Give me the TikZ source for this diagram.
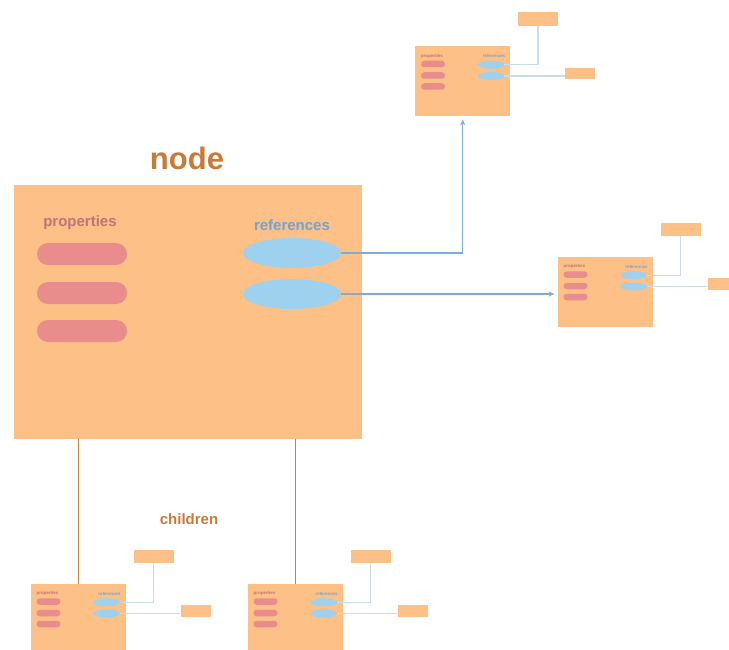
\documentclass[tikz,border=0pt]{standalone}
\usepackage{fontspec}
\setmainfont{Liberation Sans}
\usetikzlibrary{arrows.meta,shapes.misc,shapes.geometric,calc}
\definecolor{peach}{HTML}{FDC086}
\definecolor{pill}{HTML}{E88C8C}
\definecolor{ell}{HTML}{9DD1EE}
\definecolor{titlec}{HTML}{C87B36}
\definecolor{propc}{HTML}{C4717A}
\definecolor{refc}{HTML}{72A5CF}
\definecolor{arrc}{HTML}{7EADD0}
\definecolor{lightc}{HTML}{C9DCEA}
\definecolor{childc}{HTML}{C58347}
\tikzset{
  x=1pt, y=-1pt,
  bigbox/.style={fill=peach, draw=none, minimum width=348pt, minimum height=254pt, anchor=north west, inner sep=0pt},
  bigpill/.style={fill=pill, draw=none, rounded rectangle, minimum width=90pt, minimum height=22pt, inner sep=0pt},
  bigell/.style={fill=ell, draw=none, ellipse, minimum width=98pt, minimum height=30pt, inner sep=0pt},
  sbox/.style={fill=peach, draw=none, minimum width=95pt, minimum height=70pt, anchor=north west, inner sep=0pt},
  spill/.style={fill=pill, draw=none, rounded rectangle, minimum width=24pt, minimum height=6.5pt, inner sep=0pt},
  sell/.style={fill=ell, draw=none, ellipse, minimum width=26.5pt, minimum height=8pt, inner sep=0pt},
  tbox/.style={fill=peach, draw=none, inner sep=0pt},
  stxt/.style={font=\bfseries\fontsize{4.4}{5}\selectfont, inner sep=0pt},
  mainarrow/.style={draw=arrc, line width=1.3pt, -{Stealth[length=6pt,width=5pt]}, shorten >=3pt},
  lightline/.style={draw=lightc, line width=1.3pt},
  childline/.style={draw=childc, line width=1.2pt},
  lbl/.style={font=\bfseries\fontsize{15}{15}\selectfont, inner sep=0pt}
}
\newcommand\smallunit[3]{%
  \begin{scope}[shift={(#2,#3)}]
    \node[sbox] (#1) at (0,0) {};
    \node[stxt, text=propc] (#1-pt) at (17,10) {properties};
    \node[stxt, text=refc] (#1-rt) at (79,10) {references};
    \node[spill] (#1-p1) at (18,18) {};
    \node[spill] (#1-p2) at (18,29.5) {};
    \node[spill] (#1-p3) at (18,40.5) {};
    \node[sell] (#1-r1) at (76,18.7) {};
    \node[sell] (#1-r2) at (76,30) {};
    \node[tbox, minimum width=40pt, minimum height=13.5pt] (#1-t1) at (123,-27) {};
    \node[tbox, minimum width=30pt, minimum height=11.5pt] (#1-t2) at (165,27.7) {};
  \end{scope}
  \draw[lightline] (#1-r1.east) -| (#1-t1.south);
  \draw[lightline] (#1-r2.east) -- (#1-r2.east -| #1-t2.west);
}
\begin{document}
\begin{tikzpicture}
\useasboundingbox (0,0) rectangle (729,650);
\fill[white] (0,0) rectangle (729,650);
% main node
\node[bigbox] (main) at (14,185) {};
\node[font=\bfseries\fontsize{31}{31}\selectfont, text=titlec, inner sep=0pt] (title) at (187,158) {node};
\node[lbl, text=propc] (props) at (80,223) {properties};
\node[lbl, text=refc] (refs) at (292,225) {references};
\node[bigpill] (p1) at (82,254) {};
\node[bigpill] (p2) at (82,293) {};
\node[bigpill] (p3) at (82,331) {};
\node[bigell] (e1) at (292,253) {};
\node[bigell] (e2) at (292,294) {};
\node[lbl, text=titlec] (children) at (189,519) {children};
% small units
\smallunit{tr}{415}{46}
\smallunit{rr}{557.5}{256.5}
\smallunit{bl}{30.5}{583.5}
\smallunit{br}{247.5}{583.5}
% connectors
\draw[mainarrow] (e1.east) -| (tr.south);
\draw[mainarrow] (e2.east) -- (e2.east -| rr.west);
\draw[childline] (main.south -| bl.north) -- (bl.north);
\draw[childline] (main.south -| br.north) -- (br.north);
\end{tikzpicture}
\end{document}
